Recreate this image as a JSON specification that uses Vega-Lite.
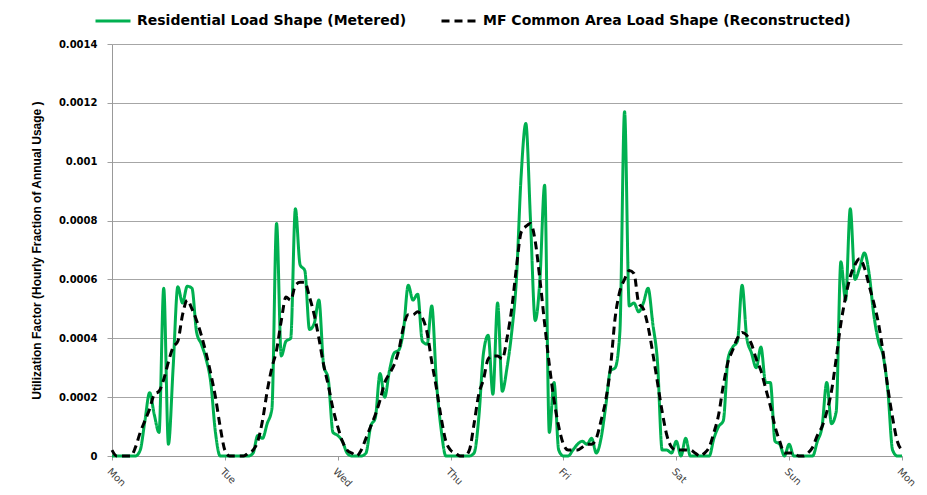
{
  "$schema": "https://vega.github.io/schema/vega-lite/v6.json",
  "width": 790,
  "height": 412,
  "autosize": "none",
  "padding": {"left": 112, "top": 44, "right": 25, "bottom": 39},
  "background": "white",
  "config": {
    "view": {"stroke": null},
    "font": "DejaVu Sans"
  },
  "data": {
    "values": [
      {"h":0,"r":0,"m":0.00002},{"h":1,"r":0,"m":0},{"h":2,"r":0,"m":0},{"h":3,"r":0,"m":0},{"h":4,"r":0,"m":0},{"h":5,"r":0,"m":0.00003},
      {"h":6,"r":0.00002,"m":0.00008},{"h":7,"r":0.00012,"m":0.00012},{"h":8,"r":0.000215,"m":0.00016},{"h":9,"r":0.00014,"m":0.00021},{"h":10,"r":0.00008,"m":0.00022},
      {"h":11,"r":0.00057,"m":0.00026},{"h":12,"r":0.00004,"m":0.00032},{"h":13,"r":0.0003,"m":0.00037},{"h":14,"r":0.000575,"m":0.00039},{"h":15,"r":0.00052,"m":0.00048},
      {"h":16,"r":0.000577,"m":0.00053},{"h":17,"r":0.00057,"m":0.0005},{"h":18,"r":0.00042,"m":0.00046},{"h":19,"r":0.00038,"m":0.00041},{"h":20,"r":0.00033,"m":0.00035},
      {"h":21,"r":0.00025,"m":0.00028},{"h":22,"r":0.00008,"m":0.0002},{"h":23,"r":0,"m":0.0001},{"h":24,"r":0,"m":0.00002},
      {"h":25,"r":0,"m":0},{"h":26,"r":0,"m":0},{"h":27,"r":0,"m":0},{"h":28,"r":0,"m":0},{"h":29,"r":0,"m":0.00001},{"h":30,"r":0.00001,"m":0.00002},
      {"h":31,"r":0.00007,"m":0.00005},{"h":32,"r":0.00006,"m":0.00012},{"h":33,"r":0.00011,"m":0.00022},{"h":34,"r":0.00016,"m":0.0003},{"h":35,"r":0.00079,"m":0.00036},
      {"h":36,"r":0.00034,"m":0.00046},{"h":37,"r":0.00039,"m":0.00054},{"h":38,"r":0.0004,"m":0.00053},{"h":39,"r":0.00084,"m":0.00058},{"h":40,"r":0.00065,"m":0.00059},
      {"h":41,"r":0.00063,"m":0.00059},{"h":42,"r":0.00043,"m":0.00054},{"h":43,"r":0.00045,"m":0.00048},{"h":44,"r":0.00053,"m":0.0004},{"h":45,"r":0.00031,"m":0.00031},
      {"h":46,"r":0.00026,"m":0.00024},{"h":47,"r":0.00008,"m":0.00016},{"h":48,"r":0.00007,"m":0.0001},
      {"h":49,"r":0.00005,"m":0.00005},{"h":50,"r":0.00001,"m":0.00002},{"h":51,"r":0,"m":0.00001},{"h":52,"r":0,"m":0},{"h":53,"r":0,"m":0.00002},{"h":54,"r":0.00001,"m":0.00006},
      {"h":55,"r":0.0001,"m":0.0001},{"h":56,"r":0.00013,"m":0.00014},{"h":57,"r":0.00028,"m":0.00019},{"h":58,"r":0.0002,"m":0.00025},{"h":59,"r":0.00029,"m":0.00028},
      {"h":60,"r":0.00035,"m":0.00031},{"h":61,"r":0.00036,"m":0.00036},{"h":62,"r":0.00043,"m":0.00044},{"h":63,"r":0.00058,"m":0.00048},{"h":64,"r":0.00053,"m":0.00048},
      {"h":65,"r":0.00055,"m":0.00049},{"h":66,"r":0.00039,"m":0.00047},{"h":67,"r":0.00038,"m":0.00042},{"h":68,"r":0.00051,"m":0.00032},{"h":69,"r":0.00025,"m":0.00023},
      {"h":70,"r":0.00009,"m":0.00013},{"h":71,"r":0,"m":0.00005},{"h":72,"r":0,"m":0.00002},
      {"h":73,"r":0,"m":0.00001},{"h":74,"r":0,"m":0},{"h":75,"r":0,"m":0},{"h":76,"r":0,"m":0.00002},{"h":77,"r":0.00001,"m":0.00011},{"h":78,"r":0.00013,"m":0.00021},
      {"h":79,"r":0.00035,"m":0.00026},{"h":80,"r":0.00041,"m":0.00033},{"h":81,"r":0.00021,"m":0.00034},{"h":82,"r":0.00052,"m":0.00034},{"h":83,"r":0.00022,"m":0.00033},
      {"h":84,"r":0.0003,"m":0.0004},{"h":85,"r":0.00042,"m":0.0005},{"h":86,"r":0.0006,"m":0.00064},{"h":87,"r":0.00095,"m":0.00076},{"h":88,"r":0.00113,"m":0.00078},
      {"h":89,"r":0.0008,"m":0.00079},{"h":90,"r":0.00046,"m":0.00073},{"h":91,"r":0.0006,"m":0.0006},{"h":92,"r":0.00092,"m":0.00045},{"h":93,"r":0.00008,"m":0.00031},
      {"h":94,"r":0.00025,"m":0.00019},{"h":95,"r":0.00002,"m":0.0001},{"h":96,"r":0,"m":0.00004},
      {"h":97,"r":0,"m":0.00002},{"h":98,"r":0.00002,"m":0.00002},{"h":99,"r":0.00004,"m":0.00002},{"h":100,"r":0.00005,"m":0.00003},{"h":101,"r":0.00004,"m":0.00004},
      {"h":102,"r":0.00006,"m":0.00004},{"h":103,"r":0.00001,"m":0.00006},{"h":104,"r":0.00006,"m":0.00012},{"h":105,"r":0.00017,"m":0.00019},{"h":106,"r":0.00029,"m":0.0003},
      {"h":107,"r":0.0003,"m":0.00047},{"h":108,"r":0.00042,"m":0.00056},{"h":109,"r":0.00117,"m":0.0006},{"h":110,"r":0.00051,"m":0.00063},{"h":111,"r":0.00052,"m":0.00062},
      {"h":112,"r":0.00049,"m":0.00052},{"h":113,"r":0.00052,"m":0.0005},{"h":114,"r":0.00057,"m":0.00044},{"h":115,"r":0.00045,"m":0.00035},{"h":116,"r":0.00032,"m":0.00025},
      {"h":117,"r":0.00002,"m":0.00015},{"h":118,"r":0.00002,"m":0.00007},{"h":119,"r":0.00001,"m":0.00003},{"h":120,"r":0.00005,"m":0.00002},
      {"h":121,"r":0,"m":0.00002},{"h":122,"r":0.00006,"m":0.00002},{"h":123,"r":0,"m":0.00002},{"h":124,"r":0,"m":0.00001},{"h":125,"r":0,"m":0},{"h":126,"r":0,"m":0.00001},
      {"h":127,"r":0,"m":0.00003},{"h":128,"r":0.00006,"m":0.00008},{"h":129,"r":0.0001,"m":0.00014},{"h":130,"r":0.00012,"m":0.00024},{"h":131,"r":0.00033,"m":0.00032},
      {"h":132,"r":0.00037,"m":0.00036},{"h":133,"r":0.00039,"m":0.0004},{"h":134,"r":0.00058,"m":0.00042},{"h":135,"r":0.0004,"m":0.00041},{"h":136,"r":0.00035,"m":0.00038},
      {"h":137,"r":0.0003,"m":0.00033},{"h":138,"r":0.00037,"m":0.00029},{"h":139,"r":0.00025,"m":0.00023},{"h":140,"r":0.00025,"m":0.00017},{"h":141,"r":0.00005,"m":0.0001},
      {"h":142,"r":0.00004,"m":0.00005},{"h":143,"r":0,"m":0.00001},{"h":144,"r":0.00004,"m":0.00001},
      {"h":145,"r":0,"m":0.00001},{"h":146,"r":0,"m":0},{"h":147,"r":0,"m":0},{"h":148,"r":0,"m":0.00001},{"h":149,"r":0,"m":0.00003},{"h":150,"r":0.00005,"m":0.00007},
      {"h":151,"r":0.0001,"m":0.0001},{"h":152,"r":0.00025,"m":0.00015},{"h":153,"r":0.00011,"m":0.00022},{"h":154,"r":0.00015,"m":0.00033},{"h":155,"r":0.00066,"m":0.00045},
      {"h":156,"r":0.00053,"m":0.00054},{"h":157,"r":0.00084,"m":0.00061},{"h":158,"r":0.0006,"m":0.00065},{"h":159,"r":0.00064,"m":0.00067},{"h":160,"r":0.00069,"m":0.00064},
      {"h":161,"r":0.00062,"m":0.00058},{"h":162,"r":0.00048,"m":0.00052},{"h":163,"r":0.00039,"m":0.00045},{"h":164,"r":0.00034,"m":0.00035},{"h":165,"r":0.00022,"m":0.00023},
      {"h":166,"r":0.00002,"m":0.00013},{"h":167,"r":0,"m":0.00005},{"h":168,"r":0,"m":0.00002}
    ]
  },
  "transform": [{"fold": ["r", "m"], "as": ["series", "value"]}],
  "mark": {"type": "line", "strokeWidth": 3, "interpolate": "monotone"},
  "encoding": {
    "x": {
      "field": "h", "type": "quantitative",
      "scale": {"domain": [0, 168], "nice": false, "zero": false},
      "axis": {
        "title": null, "grid": false,
        "values": [0, 24, 48, 72, 96, 120, 144, 168],
        "labelExpr": "['Mon','Tue','Wed','Thu','Fri','Sat','Sun','Mon'][round(datum.value/24)]",
        "labelAngle": 45, "labelAlign": "left", "labelBaseline": "top",
        "labelFont": "DejaVu Sans", "labelFontSize": 10, "labelColor": "#404040",
        "labelPadding": 6, "tickSize": 4, "tickColor": "#999999",
        "domainColor": "#999999", "labelOverlap": false, "labelBound": false
      }
    },
    "y": {
      "field": "value", "type": "quantitative",
      "scale": {"domain": [0, 0.0014], "nice": false},
      "axis": {
        "title": "Utilization Factor (Hourly Fraction of Annual Usage )",
        "titleFont": "Liberation Sans", "titleFontSize": 12, "titleFontWeight": "bold",
        "titleColor": "black", "titlePadding": 15,
        "values": [0, 0.0002, 0.0004, 0.0006, 0.0008, 0.001, 0.0012, 0.0014],
        "labelExpr": "datum.value == 0 ? '0' : format(datum.value, '.4~f')",
        "labelFont": "DejaVu Sans", "labelFontSize": 10, "labelFontWeight": "bold", "labelColor": "black",
        "labelPadding": 10, "tickSize": 5, "tickColor": "#a0a0a0",
        "gridColor": "#a6a6a6", "gridWidth": 1, "domainColor": "#999999"
      }
    },
    "color": {
      "field": "series", "type": "nominal",
      "scale": {"domain": ["r", "m"], "range": ["#00B050", "#000000"]},
      "legend": {
        "title": null, "orient": "none", "direction": "horizontal",
        "legendX": -18, "legendY": -42, "padding": 0,
        "labelExpr": "datum.label == 'r' ? 'Residential Load Shape (Metered)' : 'MF Common Area Load Shape (Reconstructed)'",
        "labelFont": "DejaVu Sans", "labelFontSize": 14, "labelFontWeight": "bold", "labelColor": "black",
        "labelLimit": 500, "labelOffset": 5, "columnPadding": 28,
        "symbolType": "stroke", "symbolSize": 1225, "symbolStrokeWidth": 3
      }
    },
    "strokeDash": {
      "field": "series", "type": "nominal",
      "scale": {"domain": ["r", "m"], "range": [[1, 0], [8, 5]]},
      "legend": null
    },
    "order": {"field": "h", "type": "quantitative"}
  }
}
